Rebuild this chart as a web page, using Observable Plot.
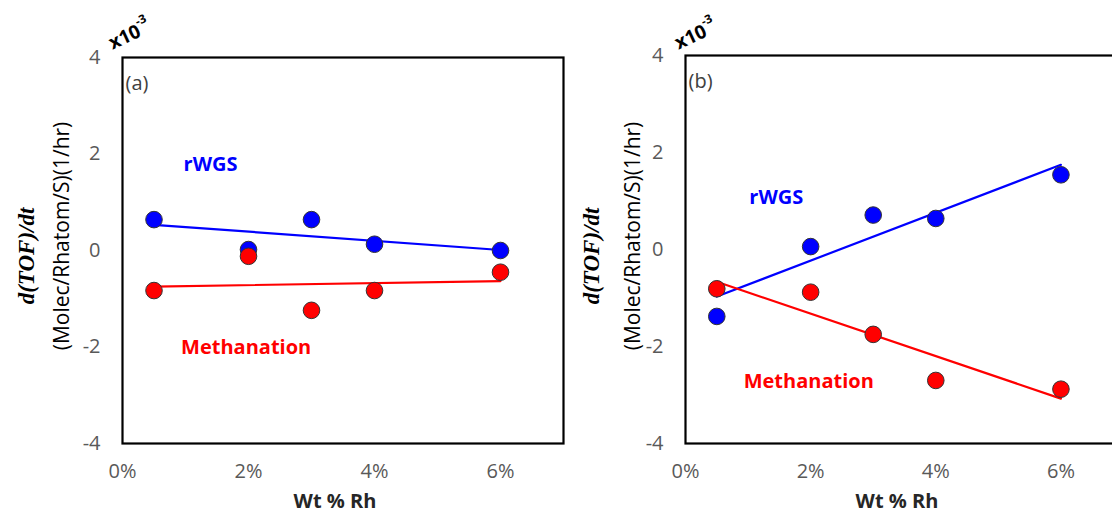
<!DOCTYPE html>
<html><head><meta charset="utf-8">
<script src="https://cdn.jsdelivr.net/npm/d3@7"></script>
<script src="https://cdn.jsdelivr.net/npm/@observablehq/plot@0.6"></script>
<style>
html,body{margin:0;padding:0;background:#fff;}
#wrap{position:relative;width:1112px;height:517px;overflow:hidden;background:#fff;}
#wrap svg{position:absolute;top:0;}
</style></head><body><div id="wrap"></div>
<script>
// Data (values in units of 1e-3)
const wtRh = [0.005, 0.02, 0.03, 0.04, 0.06];
const rwgsA = [0.64, 0.02, 0.64, 0.13, 0.00];
const methA = [-0.83, -0.12, -1.24, -0.83, -0.45];
const rwgsB = [-1.38, 0.06, 0.71, 0.64, 1.54];
const methB = [-0.81, -0.88, -1.75, -2.70, -2.88];
const xTicks = [0, 0.02, 0.04, 0.06];
const yTicks = [-4, -2, 0, 2, 4];
const panelLabels = ["(a)", "(b)"];
const seriesNames = ["rWGS", "Methanation"];
const xTitle = "Wt % Rh";
const yTitleMath = "d(TOF)/dt";
const yTitleUnits = "(Molec/Rhatom/S)(1/hr)";
const scaleBase = "x10";
const scaleExp = "-3";
// annotation anchors (data units)
const labelPosA = [[0.0097, 1.78], [0.0093, -2.01]];
const labelPosB = [[0.0102, 1.06], [0.0093, -2.72]];

const wrap = document.getElementById("wrap");

function panel(o) {
  const rows = vals => wtRh.map((x, i) => ({x, y: vals[i]}));
  const blue = rows(o.rwgs), red = rows(o.meth);
  const ann = [
    {t: seriesNames[0], x: o.labelPos[0][0], y: o.labelPos[0][1], c: "#0000ff"},
    {t: seriesNames[1], x: o.labelPos[1][0], y: o.labelPos[1][1], c: "#ff0000"}
  ];
  const chart = Plot.plot({
    width: o.width, height: 517,
    marginLeft: o.marginLeft, marginTop: o.marginTop, marginBottom: o.marginBottom, marginRight: o.marginRight,
    style: {fontFamily: "'Open Sans', sans-serif", fontSize: "20px", color: "#595959", background: "transparent", overflow: "visible"},
    x: {domain: [0, 0.07]},
    y: {domain: [-4, 4]},
    marks: [
      Plot.axisX({ticks: xTicks, tickFormat: d3.format(".0%"), tickSize: 0, tickPadding: 20, label: null, fill: "#595959"}),
      Plot.axisY({ticks: yTicks, tickFormat: d => String(d), tickSize: 0, tickPadding: 22, label: null, fill: "#595959"}),
      Plot.linearRegressionY(blue, {x: "x", y: "y", stroke: "#0000ff", strokeWidth: 2.2, ci: 0}),
      Plot.linearRegressionY(red, {x: "x", y: "y", stroke: "#ff0000", strokeWidth: 2.2, ci: 0}),
      Plot.dot(blue, {x: "x", y: "y", r: 8.3, fill: "#0000ff", stroke: "#333", strokeWidth: 1}),
      Plot.dot(red, {x: "x", y: "y", r: 8.3, fill: "#ff0000", stroke: "#333", strokeWidth: 1}),
      Plot.text(ann, {x: "x", y: "y", text: "t", fill: "c", textAnchor: "start", fontWeight: "bold", fontSize: 20}),
      Plot.text([o.label], {text: d => d, frameAnchor: "top-left", dx: 3, dy: 18, textAnchor: "start", fill: "#404040", fontSize: 20}),
      Plot.frame({stroke: "black", strokeWidth: 2.2})
    ]
  });
  chart.style.left = o.left + "px";
  const svg = d3.select(chart);
  // x title
  svg.append("text").attr("x", o.xTitleX).attr("y", 503).attr("text-anchor", "middle").attr("dominant-baseline", "middle")
    .attr("font-family", "'Open Sans', sans-serif").attr("font-weight", "bold").attr("font-size", 20).attr("fill", "#262626").text(xTitle);
  // y titles
  svg.append("text").attr("transform", `translate(${o.yT1x},${o.yT1y}) rotate(-90)`).attr("text-anchor", "middle").attr("dominant-baseline", "middle")
    .attr("font-family", "'Liberation Serif', serif").attr("font-weight", "bold").attr("font-style", "italic").attr("font-size", 23).attr("fill", "#000").text(yTitleMath);
  svg.append("text").attr("transform", `translate(${o.yT2x},${o.yT2y}) rotate(-90)`).attr("text-anchor", "middle").attr("dominant-baseline", "middle")
    .attr("font-family", "'Open Sans', sans-serif").attr("font-size", 21).attr("fill", "#000").text(yTitleUnits);
  // x10^-3
  const t = svg.append("text").attr("transform", `translate(${o.expX},${o.expY}) rotate(-25)`).attr("text-anchor", "middle").attr("dominant-baseline", "middle")
    .attr("font-family", "'Open Sans', sans-serif").attr("font-weight", "bold").attr("font-size", 19).attr("fill", "#000");
  t.append("tspan").text(scaleBase);
  t.append("tspan").attr("font-size", 12).attr("dy", -9).text(scaleExp);
  wrap.appendChild(chart);
}

panel({left: 0, width: 580, marginLeft: 122, marginRight: 17, marginTop: 57, marginBottom: 74,
  rwgs: rwgsA, meth: methA, label: panelLabels[0], labelPos: labelPosA,
  xTitleX: 335, yT1x: 29, yT1y: 256, yT2x: 63, yT2y: 236, expX: 130, expY: 36});
panel({left: 556, width: 577, marginLeft: 129, marginRight: 10, marginTop: 55, marginBottom: 74,
  rwgs: rwgsB, meth: methB, label: panelLabels[1], labelPos: labelPosB,
  xTitleX: 341, yT1x: 38, yT1y: 256, yT2x: 78, yT2y: 236, expX: 140, expY: 36});
</script></body></html>
